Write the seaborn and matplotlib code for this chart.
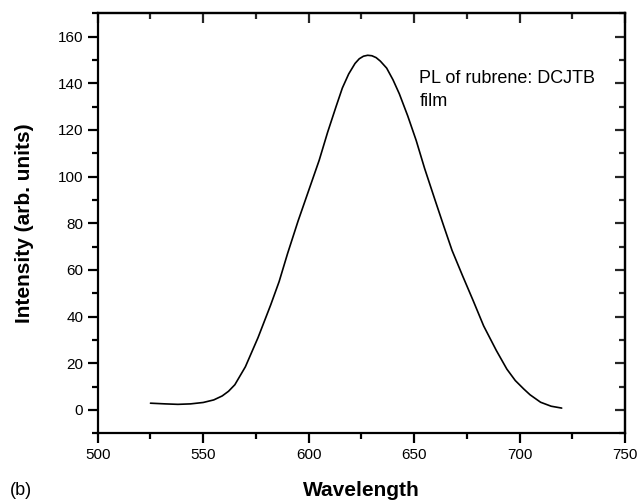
import matplotlib

matplotlib.use("Agg")

import matplotlib.pyplot as plt
import pandas as pd
import seaborn as sns
from matplotlib.ticker import MultipleLocator

# PL spectrum
wavelength = [525, 532, 538, 544, 550, 555, 559, 562, 565, 570, 576, 582, 586,
              590, 595, 600, 605, 609, 613, 616, 619, 622, 624, 626, 628, 630,
              632, 634, 637, 640, 643, 647, 651, 655, 660, 664, 668, 673, 678,
              683, 689, 694, 698, 702, 705, 710, 715, 720]
intensity = [2.9, 2.6, 2.4, 2.6, 3.2, 4.3, 6.0, 8.0, 10.8, 18.5, 31, 45, 55,
             67, 81, 94, 107, 119, 130, 138, 144, 148.5, 150.5, 151.6, 152, 151.8,
             151, 149.5, 146.5, 141.5, 135.5, 126, 115.5, 103.5, 89.8, 79, 68.4, 57.5, 46.9,
             36, 25.5, 17.5, 12.6, 9.0, 6.5, 3.3, 1.6, 0.8]

x_ticks = [500, 550, 600, 650, 700, 750]
y_ticks = [0, 20, 40, 60, 80, 100, 120, 140, 160]

sns.set_style("ticks")
plt.rcParams["font.family"] = ["Liberation Sans", "DejaVu Sans"]
plt.rcParams["text.color"] = "black"
plt.rcParams["axes.labelcolor"] = "black"

df = pd.DataFrame({"Wavelength": wavelength, "Intensity": intensity})

fig = plt.figure(figsize=(6.39, 5.03), dpi=100)
ax = fig.add_axes([0.153, 0.1386, 0.825, 0.835])

sns.lineplot(data=df, x="Wavelength", y="Intensity", ax=ax, color="black",
             linewidth=1.2, sort=False)

ax.set_xlim(500, 750)
ax.set_ylim(-10, 170)
ax.set_xticks(x_ticks)
ax.set_yticks(y_ticks)
ax.xaxis.set_minor_locator(MultipleLocator(25))
ax.yaxis.set_minor_locator(MultipleLocator(10))

for side in ["left", "bottom", "top", "right"]:
    ax.spines[side].set_linewidth(1.6)
    ax.spines[side].set_visible(True)
    ax.spines[side].set_color("black")

ax.tick_params(which="major", direction="out", length=7, width=1.6,
               labelsize=11, colors="black")
ax.tick_params(which="minor", direction="out", length=4, width=1.6, colors="black")

# mirrored inward ticks on top and right
top = ax.secondary_xaxis("top")
top.set_xticks(x_ticks)
top.xaxis.set_minor_locator(MultipleLocator(25))
top.tick_params(which="major", direction="in", length=7, width=1.6, labeltop=False)
top.tick_params(which="minor", direction="in", length=4, width=1.6)
top.spines["top"].set_linewidth(1.6)

right = ax.secondary_yaxis("right")
right.set_yticks(y_ticks)
right.yaxis.set_minor_locator(MultipleLocator(10))
right.tick_params(which="major", direction="in", length=7, width=1.6, labelright=False)
right.tick_params(which="minor", direction="in", length=4, width=1.6)
right.spines["right"].set_linewidth(1.6)

ax.set_xlabel("Wavelength", fontsize=15, fontweight="bold", labelpad=14)
ax.set_ylabel("Intensity (arb. units)", fontsize=15, fontweight="bold", labelpad=17)

ax.text(652.5, 145.5, "PL of rubrene: DCJTB\nfilm", fontsize=13, va="top", ha="left",
        linespacing=1.4)
fig.text(0.015, 0.025, "(b)", fontsize=13, ha="left", va="center")

fig.savefig("out.png", dpi=100)
